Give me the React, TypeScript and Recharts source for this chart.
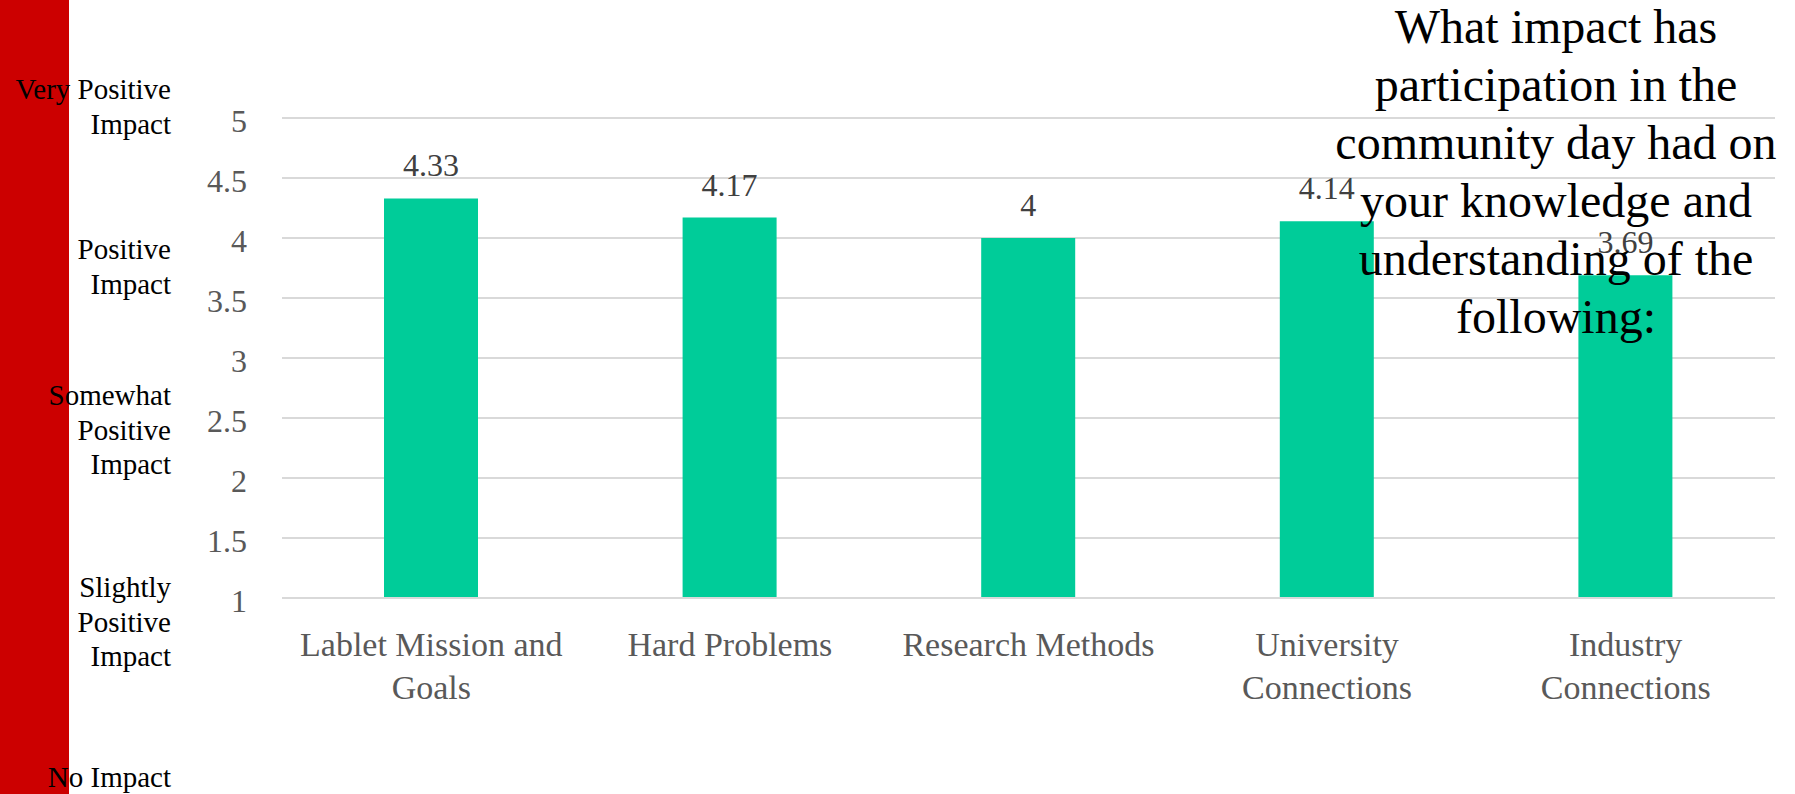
import { BarChart, Bar, XAxis, YAxis, CartesianGrid, LabelList } from "recharts"

const categories = [
  "Lablet Mission and\nGoals",
  "Hard Problems",
  "Research Methods",
  "University\nConnections",
  "Industry\nConnections",
]
const scores = [4.33, 4.17, 4, 4.14, 3.69]
const yTicks = [1, 1.5, 2, 2.5, 3, 3.5, 4, 4.5, 5]

const titleLines = [
  "What impact has",
  "participation in the",
  "community day had on",
  "your knowledge and",
  "understanding of the",
  "following:",
]

const scaleLabels = [
  ["Very Positive", "Impact"],
  ["Positive", "Impact"],
  ["Somewhat", "Positive", "Impact"],
  ["Slightly", "Positive", "Impact"],
  ["No Impact"],
]
const scaleTops = [72, 232, 378, 570, 760]

const data = categories.map((name, i) => ({ name, score: scores[i] }))

const serif = "'Liberation Serif', 'Times New Roman', serif"

function CategoryTick(props: any) {
  const { x, y, payload } = props
  const lines = String(payload.value).split("\n")
  return (
    <text x={x} y={y + 58} textAnchor="middle" fill="#595959" fontSize={34} fontFamily={serif}>
      {lines.map((line, i) => (
        <tspan key={i} x={x} dy={i === 0 ? 0 : 43}>
          {line}
        </tspan>
      ))}
    </text>
  )
}

function ValueTick(props: any) {
  const { y, payload } = props
  return (
    <text x={247} y={y + 14} textAnchor="end" fill="#595959" fontSize={32} fontFamily={serif}>
      {payload.value}
    </text>
  )
}

export default function App() {
  return (
    <div
      style={{
        position: "absolute",
        left: 0,
        top: 0,
        width: 1795,
        height: 794,
        overflow: "hidden",
        background: "#fff",
      }}
    >
      <div style={{ position: "absolute", left: 0, top: 0, width: 69, height: 794, background: "#CC0000" }} />

      <div style={{ position: "absolute", left: 0, top: 0 }}>
        <BarChart width={1795} height={794} data={data} margin={{ top: 118, right: 20, left: 0, bottom: 0 }}>
          <CartesianGrid vertical={false} stroke="#D9D9D9" strokeWidth={2} />
          <XAxis
            dataKey="name"
            height={196}
            tickLine={false}
            tickSize={0}
            tickMargin={0}
            axisLine={{ stroke: "#D9D9D9", strokeWidth: 2 }}
            tick={<CategoryTick />}
            interval={0}
          />
          <YAxis
            width={282}
            domain={[1, 5]}
            ticks={yTicks}
            axisLine={false}
            tickLine={false}
            tickSize={0}
            tick={<ValueTick />}
          />
          <Bar dataKey="score" fill="#00CC99" barSize={94} isAnimationActive={false}>
            <LabelList dataKey="score" position="top" offset={22} fill="#404040" fontSize={32} fontFamily={serif} />
          </Bar>
        </BarChart>
      </div>

      {scaleLabels.map((lines, i) => (
        <div
          key={i}
          style={{
            position: "absolute",
            right: 1795 - 171,
            top: scaleTops[i],
            textAlign: "right",
            fontFamily: serif,
            fontSize: 29,
            lineHeight: "34.5px",
            color: "#000",
            whiteSpace: "nowrap",
          }}
        >
          {lines.map((l, j) => (
            <div key={j}>{l}</div>
          ))}
        </div>
      ))}

      <div
        style={{
          position: "absolute",
          left: 1556 - 300,
          top: -2,
          width: 600,
          textAlign: "center",
          fontFamily: serif,
          fontSize: 48,
          lineHeight: "58px",
          color: "#000",
        }}
      >
        {titleLines.map((l, i) => (
          <div key={i}>{l}</div>
        ))}
      </div>
    </div>
  )
}
